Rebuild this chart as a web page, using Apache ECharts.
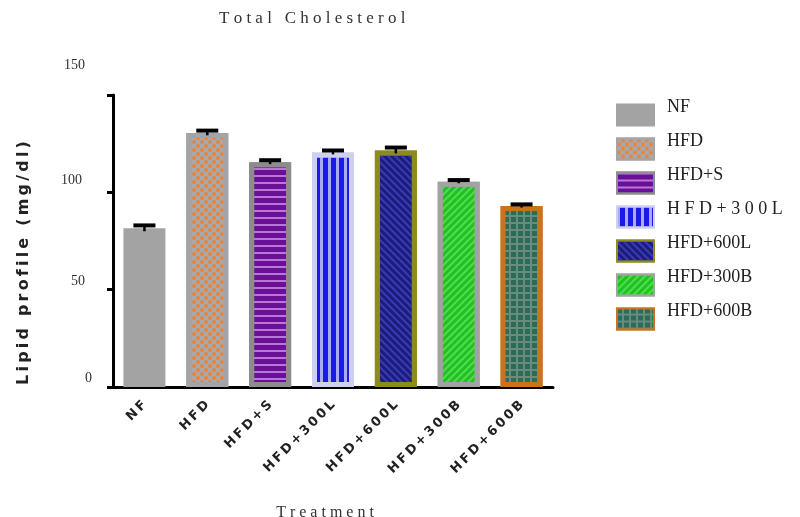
<!DOCTYPE html>
<html>
<head>
<meta charset="utf-8">
<script src="https://cdn.jsdelivr.net/npm/echarts@6/dist/echarts.min.js"></script>
<style>
  html, body { margin: 0; padding: 0; background: #fff; }
  #chart { width: 800px; height: 517px; }
</style>
</head>
<body>
<div id="chart"></div>
<script>
// Treatment groups, mean total cholesterol and SEM
const categories = ['NF', 'HFD', 'HFD+S', 'HFD+300L', 'HFD+600L', 'HFD+300B', 'HFD+600B'];
const means = [81.5, 130.5, 115.5, 120.5, 121.5, 105.5, 93];
const sems = [1.5, 1.2, 1.0, 1.0, 1.5, 0.8, 0.8];
const legendLabels = ['NF', 'HFD', 'HFD+S', 'H F D + 3 0 0 L', 'HFD+600L', 'HFD+300B', 'HFD+600B'];
const yTicks = [0, 50, 100, 150];

// Fill, border and pattern for each group
const barStyles = [
  { color: '#a3a3a3', borderColor: '#a3a3a3', decal: null },
  { color: '#a9a9ab', borderColor: '#a3a3a8',
    decal: { symbol: 'circle', symbolSize: 1, color: '#e8843e',
             dashArrayX: [[4, 4], [0, 4, 4, 0]], dashArrayY: [3.5, 0] } },
  { color: '#6a0f96', borderColor: '#8c8c8c',
    decal: { symbol: 'rect', symbolSize: 1, color: '#b878d8',
             dashArrayX: [1, 0], dashArrayY: [2, 5] } },
  { color: '#1a1ae6', borderColor: '#cfcff0',
    decal: { symbol: 'rect', symbolSize: 1, color: '#aaaaf8',
             dashArrayX: [3, 5], dashArrayY: [1, 0] } },
  { color: '#1c1c7a', borderColor: '#8c8c1e',
    decal: { symbol: 'rect', symbolSize: 1, color: '#3a3ab8',
             dashArrayX: [1, 0], dashArrayY: [2, 3], rotation: Math.PI / 4 } },
  { color: '#22c022', borderColor: '#a2a2a2',
    decal: { symbol: 'rect', symbolSize: 1, color: '#4ede4e',
             dashArrayX: [1, 0], dashArrayY: [2, 3], rotation: -Math.PI / 4 } },
  { color: '#6b8c7c', borderColor: '#c8741e',
    decal: { symbol: 'rect', symbolSize: 1, color: '#2a6c58',
             dashArrayX: [5, 2], dashArrayY: [5, 2] } }
];

// Spread lettering with thin spaces
function spread(s) { return s.split('').join('\u2009'); }

// Nudges for the value-axis labels, which sit a little above their ticks
const yLabelNudge = { 0: [9, 0], 50: [8, 7], 100: [12, 10], 150: [30, 7] };
const yRich = {};
yTicks.forEach(function (t) {
  const n = yLabelNudge[t];
  yRich['t' + t] = {
    fontFamily: 'Liberation Serif', fontSize: 14, color: '#333',
    padding: [0, n[1], n[0] * 2, 0]
  };
});

const barSeries = categories.map(function (name, i) {
  const s = barStyles[i];
  const itemStyle = { color: s.color, borderColor: s.borderColor, borderWidth: 5 };
  if (s.decal) itemStyle.decal = s.decal;
  return {
    name: name,
    type: 'bar',
    barWidth: 42,
    barGap: '-100%',
    itemStyle: itemStyle,
    emphasis: { disabled: true },
    data: categories.map(function (_, j) { return j === i ? means[i] : '-'; })
  };
});

const errorSeries = {
  type: 'custom',
  name: 'sem',
  z: 10,
  silent: true,
  data: categories.map(function (_, i) { return [i, means[i], sems[i]]; }),
  renderItem: function (params, api) {
    const i = api.value(0), m = api.value(1), e = api.value(2);
    const top = api.coord([i, m + e]);
    const low = api.coord([i, m - e]);
    return {
      type: 'group',
      children: [
        { type: 'line', shape: { x1: top[0], y1: top[1], x2: low[0], y2: low[1] },
          style: { stroke: '#000', lineWidth: 2.5 } },
        { type: 'rect', shape: { x: top[0] - 11, y: top[1] - 2, width: 22, height: 4 },
          style: { fill: '#000' } }
      ]
    };
  }
};

const chart = echarts.init(document.getElementById('chart'), null, { renderer: 'canvas' });
chart.setOption({
  animation: false,
  backgroundColor: '#fff',
  title: {
    text: 'T o t a l   C h o l e s t e r o l',
    left: 214, top: 5,
    textStyle: { fontFamily: 'Liberation Serif', fontSize: 17, fontWeight: 'normal', color: '#333' }
  },
  grid: { left: 113, right: 247, top: 95, bottom: 130, outerBoundsMode: 'none', containLabel: false },
  legend: {
    orient: 'vertical',
    left: 611, top: 93,
    itemWidth: 37, itemHeight: 21, itemGap: 0,
    icon: 'rect',
    data: categories,
    selectedMode: false,
    formatter: function (name) { return '{a|' + legendLabels[categories.indexOf(name)] + '}'; },
    textStyle: {
      rich: {
        a: { fontFamily: 'Liberation Serif', fontSize: 18, color: '#222',
             lineHeight: 18, padding: [0, 0, 16, 8] }
      }
    }
  },
  xAxis: {
    type: 'category',
    data: categories,
    name: 'T r e a t m e n t',
    nameLocation: 'middle',
    nameGap: 118,
    nameTextStyle: { fontFamily: 'Liberation Serif', fontSize: 16, color: '#333',
                     padding: [0, 16, 0, 0] },
    axisLine: { lineStyle: { color: '#000', width: 3 } },
    axisTick: { alignWithLabel: true, length: 6, lineStyle: { color: '#000', width: 3 } },
    axisLabel: { rotate: 45, margin: 16, fontFamily: 'DejaVu Sans', fontWeight: 'bold',
                 fontSize: 13, color: '#222', formatter: spread }
  },
  yAxis: {
    type: 'value',
    min: 0, max: 150, interval: 50,
    name: spread('Lipid profile (mg/dl)'),
    nameLocation: 'middle',
    nameRotate: 90,
    nameGap: 81,
    nameTextStyle: { fontFamily: 'DejaVu Sans', fontWeight: 'bold', fontSize: 16, color: '#222',
                     padding: [0, 44, 0, 0] },
    axisLine: { show: true, lineStyle: { color: '#000', width: 3 } },
    axisTick: { show: true, length: 6, lineStyle: { color: '#000', width: 3 } },
    splitLine: { show: false },
    axisLabel: {
      margin: 21,
      formatter: function (v) { return '{t' + v + '|' + v + '}'; },
      rich: yRich
    }
  },
  series: barSeries.concat([errorSeries])
});
</script>
</body>
</html>
